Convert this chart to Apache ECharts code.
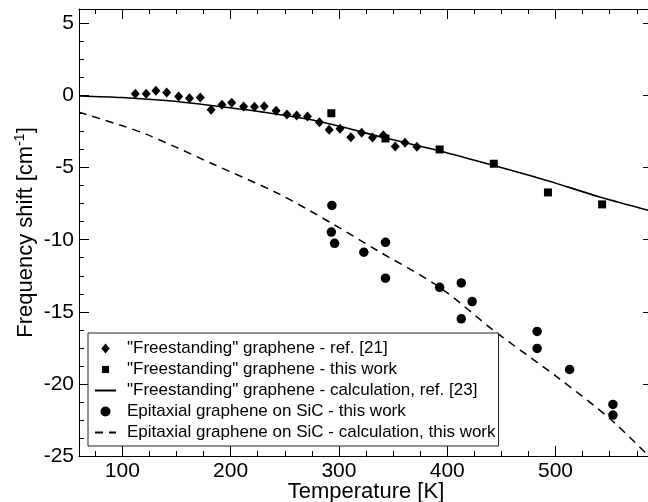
<!DOCTYPE html>
<html>
<head>
<meta charset="utf-8">
<script src="https://cdn.jsdelivr.net/npm/echarts@6/dist/echarts.min.js"></script>
<style>
html,body{margin:0;padding:0;background:#fff;}
#chart{width:648px;height:502px;}
</style>
</head>
<body>
<div id="chart"></div>
<script>
// ---- data ----
const tempRef21 = [112,122,131,141,152,162,172,182,192,201,212,222,231,242,252,261,271,282,291,301,311,321,331,341,352,361,372];
const shiftRef21 = [0.12,0.12,0.33,0.21,-0.07,-0.19,-0.14,-0.99,-0.64,-0.51,-0.76,-0.78,-0.74,-1.06,-1.32,-1.39,-1.45,-1.85,-2.38,-2.31,-2.89,-2.58,-2.91,-2.75,-3.53,-3.28,-3.55];

const tempFreeThis = [293,343,393,443,493,543];
const shiftFreeThis = [-1.23,-2.98,-3.74,-4.73,-6.72,-7.55];

const tempFreeCalc = [60,100,140,182,230,282,343,394,443,492,541,590];
const shiftFreeCalc = [-0.03,-0.14,-0.35,-0.69,-1.15,-1.80,-2.95,-3.86,-4.85,-5.89,-7.04,-8.05];

const tempEpiThis = [293.5,293,296,343,323,343,393,413,423,413,483,483,513,553,553];
const shiftEpiThis = [-7.62,-9.47,-10.25,-10.18,-10.87,-12.67,-13.30,-13.00,-14.29,-15.49,-16.36,-17.54,-19.00,-21.42,-22.16];

const tempEpiCalc = [60,100,121,150,183,245,294,335,393,443,501,550,586];
const shiftEpiCalc = [-1.15,-2.10,-2.65,-3.60,-4.73,-6.84,-8.89,-10.73,-13.30,-16.30,-19.50,-22.40,-25.00];

const seriesNames = [
  '"Freestanding" graphene - ref. [21]',
  '"Freestanding" graphene - this work',
  '"Freestanding" graphene - calculation, ref. [23]',
  'Epitaxial graphene on SiC - this work',
  'Epitaxial graphene on SiC - calculation, this work'
];

const xMajorTicks = [100,200,300,400,500];
const xMinorTicks = [75,125,150,175,225,250,275,325,350,375,425,450,475,525,550,575];
const yMajorTicks = [-25,-20,-15,-10,-5,0,5];
const yMinorTicks = [-23.75,-22.5,-21.25,-18.75,-17.5,-16.25,-13.75,-12.5,-11.25,-8.75,-7.5,-6.25,-3.75,-2.5,-1.25,1.25,2.5,3.75];

const X_MIN = 60, X_MAX = 590, Y_MIN = -25, Y_MAX = 6;

function zip(a, b) { return a.map((v, i) => [v, b[i]]); }

const FONT = '"Liberation Sans", Arial, Helvetica, sans-serif';

function xAxis(pos, major, labels) {
  return {
    type: 'value', min: X_MIN, max: X_MAX, position: pos,
    axisLine: { show: major, onZero: false, lineStyle: { color: '#000', width: 1 } },
    axisTick: { show: true, inside: true, length: major ? 10 : 5,
      customValues: major ? xMajorTicks : xMinorTicks, lineStyle: { color: '#000', width: 1 } },
    axisLabel: { show: labels, customValues: xMajorTicks, margin: 5, color: '#000', fontSize: 21, fontFamily: FONT },
    splitLine: { show: false },
    name: labels ? 'Temperature [K]' : '',
    nameLocation: 'middle', nameGap: 25, nameMoveOverlap: false,
    nameTextStyle: { color: '#000', fontSize: 22, fontFamily: FONT }
  };
}
function yAxis(pos, major, labels) {
  return {
    type: 'value', min: Y_MIN, max: Y_MAX, position: pos,
    axisLine: { show: major, onZero: false, lineStyle: { color: '#000', width: 1 } },
    axisTick: { show: true, inside: true, length: major ? 10 : 5,
      customValues: major ? yMajorTicks : yMinorTicks, lineStyle: { color: '#000', width: 1 } },
    axisLabel: { show: labels, customValues: yMajorTicks, margin: 5, color: '#000', fontSize: 21, fontFamily: FONT },
    splitLine: { show: false },
    name: labels ? '{a|Frequency shift [cm}{b|-1}{a|]}' : '',
    nameLocation: 'middle', nameGap: 40, nameMoveOverlap: false,
    nameTextStyle: { color: '#000', fontFamily: FONT,
      rich: { a: { fontSize: 22, fontFamily: FONT, color: '#000', lineHeight: 26 },
              b: { fontSize: 14, fontFamily: FONT, color: '#000', verticalAlign: 'top', lineHeight: 26, padding: [0,0,6,0] } } }
  };
}

const hiddenSymbol = { opacity: 0 };

const chart = echarts.init(document.getElementById('chart'), null, { renderer: 'canvas' });
chart.setOption({
  animation: false,
  backgroundColor: '#fff',
  grid: { left: 79, top: 9, width: 574, height: 447, containLabel: false, outerBoundsMode: 'none' },
  xAxis: [xAxis('bottom', true, true), xAxis('bottom', false, false), xAxis('top', true, false), xAxis('top', false, false)],
  yAxis: [yAxis('left', true, true), yAxis('left', false, false), yAxis('right', true, false), yAxis('right', false, false)],
  legend: {
    orient: 'vertical', left: 88, top: 333,
    backgroundColor: '#fff', borderColor: '#222', borderWidth: 1,
    padding: [5, 3, 3, 6],
    itemWidth: 21, itemHeight: 10, itemGap: 0,
    textStyle: { fontSize: 17, fontFamily: FONT, color: '#000', lineHeight: 21, padding: [0, 0, 0, 6] },
    data: [
      { name: seriesNames[0], icon: 'path://M4.15,0L8.3,5L4.15,10L0,5Z' },
      { name: seriesNames[1], icon: 'path://M0,0M14,14M2,2L12,2L12,12L2,12Z' },
      { name: seriesNames[2], itemStyle: hiddenSymbol },
      { name: seriesNames[3], icon: 'circle' },
      { name: seriesNames[4], itemStyle: hiddenSymbol }
    ]
  },
  series: [
    { name: seriesNames[2], type: 'line', data: zip(tempFreeCalc, shiftFreeCalc), smooth: 0.3,
      symbol: 'none', lineStyle: { color: '#000', width: 1.6, type: 'solid' }, itemStyle: { color: '#000' }, z: 2 },
    { name: seriesNames[4], type: 'line', data: zip(tempEpiCalc, shiftEpiCalc), smooth: 0.3,
      symbol: 'none', lineStyle: { color: '#000', width: 1.5, type: [8, 6] }, itemStyle: { color: '#000' }, z: 2 },
    { name: seriesNames[0], type: 'scatter', data: zip(tempRef21, shiftRef21), symbol: 'diamond',
      symbolSize: [9, 10], itemStyle: { color: '#000', opacity: 1 }, z: 3 },
    { name: seriesNames[1], type: 'scatter', data: zip(tempFreeThis, shiftFreeThis), symbol: 'rect',
      symbolSize: 8, itemStyle: { color: '#000', opacity: 1 }, z: 3 },
    { name: seriesNames[3], type: 'scatter', data: zip(tempEpiThis, shiftEpiThis), symbol: 'circle',
      symbolSize: 9.5, itemStyle: { color: '#000', opacity: 1 }, z: 3 }
  ]
});
</script>
</body>
</html>
